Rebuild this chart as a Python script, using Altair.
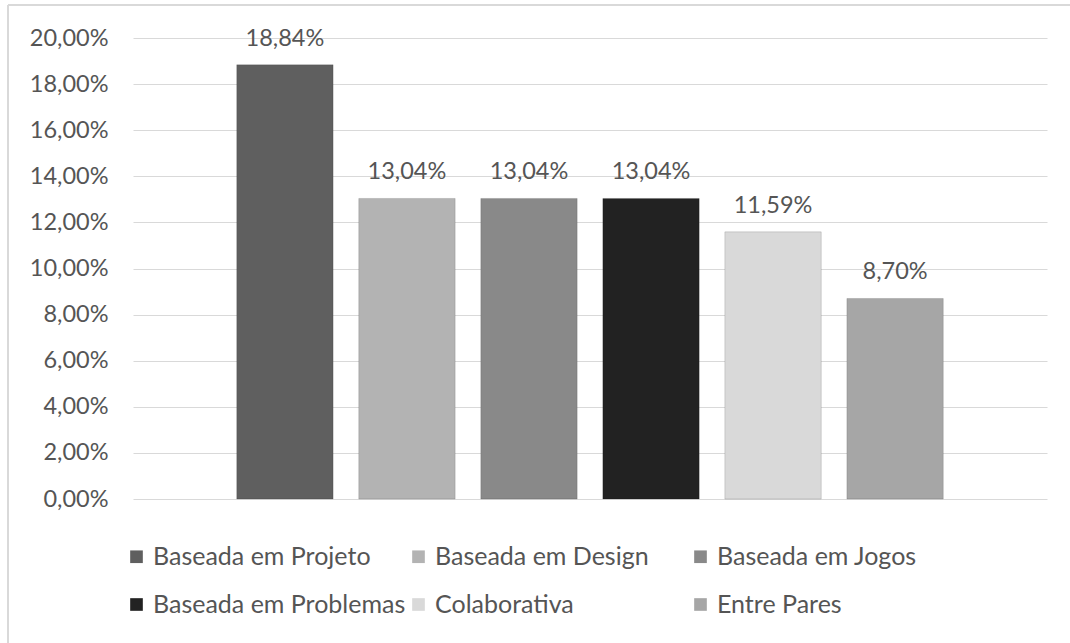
import altair as alt
import pandas as pd

categories = ["Baseada em Projeto", "Baseada em Design", "Baseada em Jogos",
              "Baseada em Problemas", "Colaborativa", "Entre Pares"]
values = [18.84, 13.04, 13.04, 13.04, 11.59, 8.70]
colors = ["#5f5f5f", "#b3b3b3", "#898989", "#222222", "#d9d9d9", "#a6a6a6"]
y_ticks = [0, 2, 4, 6, 8, 10, 12, 14, 16, 18, 20]

df = pd.DataFrame({"cat": categories, "val": values})

FONT = "Lato"
TXT = "#555555"

base = alt.Chart(df)

bars = base.mark_bar(stroke="#00000022", strokeWidth=1).encode(
    x=alt.X("cat:N", sort=categories, axis=None,
            scale=alt.Scale(paddingInner=0.21, paddingOuter=0.85)),
    y=alt.Y("val:Q",
            scale=alt.Scale(domain=[0, 20], nice=False),
            axis=alt.Axis(values=y_ticks, title=None, domain=False, ticks=False,
                          labelPadding=25, labelFont=FONT, labelFontSize=23.5,
                          labelColor=TXT, gridColor="#d9d9d9", gridWidth=1.2,
                          labelExpr="replace(format(datum.value, '.2f'), '.', ',') + '%'")),
    color=alt.Color("cat:N", sort=categories,
                    scale=alt.Scale(domain=categories, range=colors),
                    legend=alt.Legend(title=None, orient="none", legendX=-9, legendY=506,
                                      direction="horizontal", columns=3, gridAlign="all",
                                      symbolType="square", symbolSize=160,
                                      symbolStrokeWidth=0, labelFont=FONT,
                                      labelFontSize=25, labelColor=TXT, labelOffset=4,
                                      columnPadding=0, rowPadding=22, padding=0,
                                      labelLimit=400)),
)

labels = base.transform_calculate(
    lab="replace(format(datum.val, '.2f'), '.', ',') + '%'"
).mark_text(font=FONT, fontSize=23.5, color=TXT, baseline="alphabetic", dy=-19).encode(
    x=alt.X("cat:N", sort=categories),
    y="val:Q",
    text="lab:N",
)

border_left = alt.Chart(df).mark_rule(color="#d9d9d9", strokeWidth=2).encode(
    x=alt.value(-125), y=alt.value(-33), y2=alt.value(610))
border_top = alt.Chart(df).mark_rule(color="#d9d9d9", strokeWidth=2).encode(
    x=alt.value(-125), x2=alt.value(940), y=alt.value(-33))

chart = alt.layer(bars, labels, border_left, border_top).properties(
    width=914, height=461,
    autosize=alt.AutoSizeParams(type="none"),
    padding={"left": 133, "top": 38, "right": 23, "bottom": 144},
    background="white",
).configure_view(stroke=None)

chart.save("out.html", embed_options={"renderer": "svg", "actions": False})
